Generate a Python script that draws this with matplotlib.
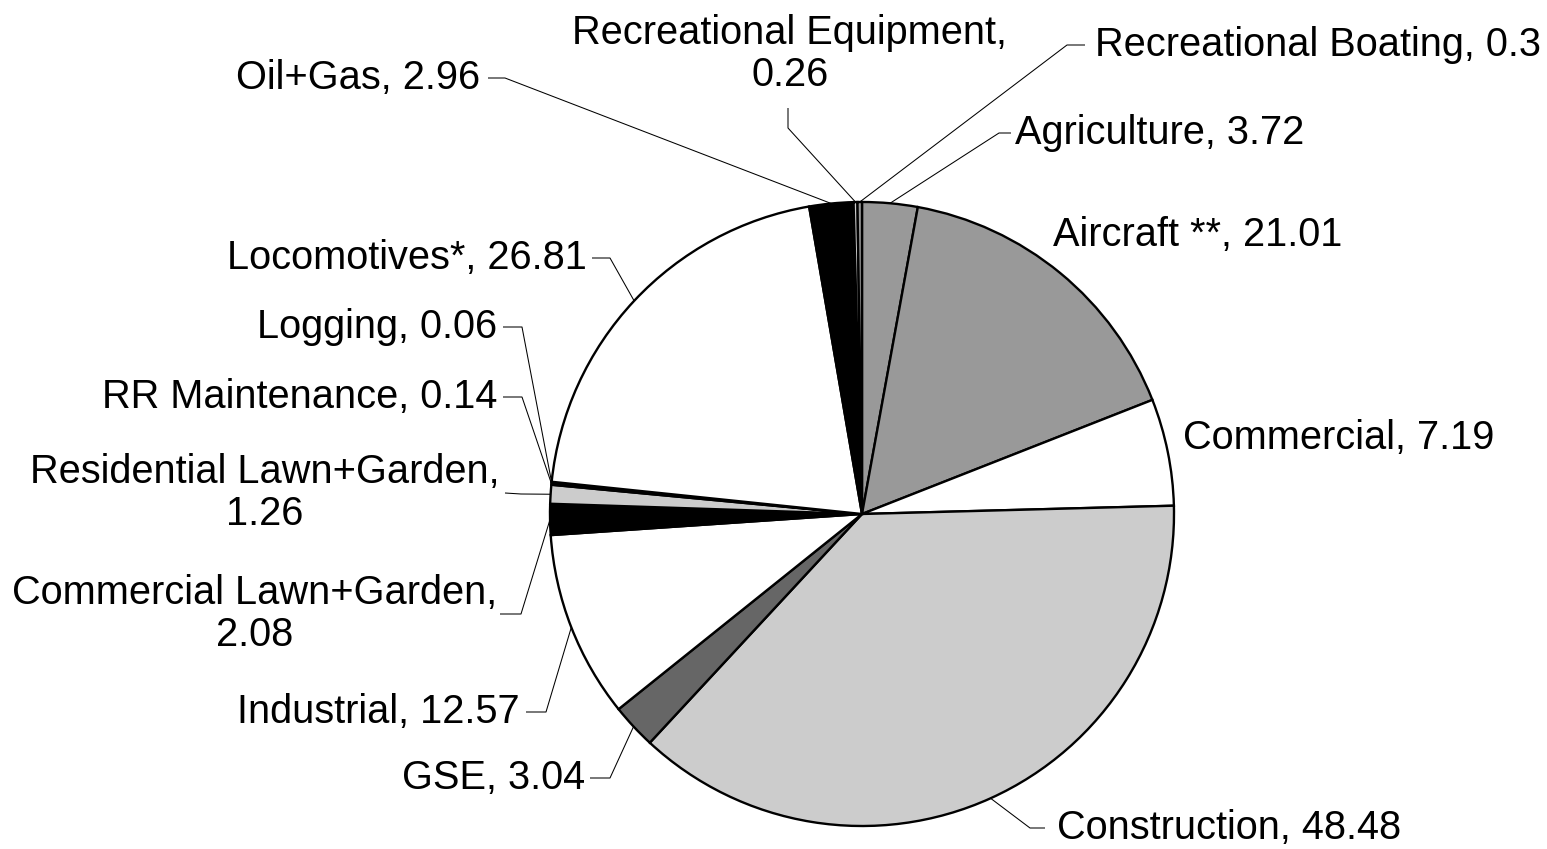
import numpy as np
import matplotlib
matplotlib.use("Agg")
import matplotlib.pyplot as plt

# ---- data ----
categories = ["Agriculture", "Aircraft **", "Commercial", "Construction", "GSE",
              "Industrial", "Commercial Lawn+Garden", "Residential Lawn+Garden",
              "RR Maintenance", "Logging", "Locomotives*", "Oil+Gas",
              "Recreational Equipment", "Recreational Boating"]
values = [3.72, 21.01, 7.19, 48.48, 3.04, 12.57, 2.08, 1.26, 0.14, 0.06,
          26.81, 2.96, 0.26, 0.3]
value_labels = ["3.72", "21.01", "7.19", "48.48", "3.04", "12.57", "2.08", "1.26",
                "0.14", "0.06", "26.81", "2.96", "0.26", "0.3"]

# ---- styles ----
colors = ["#999999", "#999999", "#ffffff", "#cccccc", "#666666", "#ffffff",
          "#000000", "#cccccc", "#000000", "#999999", "#ffffff", "#000000",
          "#cccccc", "#999999"]

W, H = 1547, 849
CX, CY, R = 862, 514, 312
plt.rcParams['font.family'] = ['Liberation Sans', 'DejaVu Sans']
FS = 28.6

fig = plt.figure(figsize=(W / 100, H / 100), dpi=100)
ax = fig.add_axes([0, 0, 1, 1])

def Y(py):
    return H - py

ax.pie(values, colors=colors, startangle=90, counterclock=False,
       center=(CX, Y(CY)), radius=R,
       wedgeprops=dict(edgecolor="black", linewidth=1.7, antialiased=True))
ax.set_xlim(0, W)
ax.set_ylim(0, H)
ax.set_aspect("equal")
ax.axis("off")

total = sum(values)
cum = np.cumsum([0] + values)
def edge_point(i):
    frac = (cum[i] + values[i] / 2) / total
    ang = np.deg2rad(90 - 360 * frac)
    return CX + R * np.cos(ang), CY - R * np.sin(ang)

# layout: (text x, text y, ha, multiline, leader points [start, elbow])
layout = {
    "Agriculture": (1015, 133, "left", False, [(1011, 133), (999, 133)]),
    "Aircraft **": (1053, 235, "left", False, None),
    "Commercial": (1183, 438, "left", False, None),
    "Construction": (1057, 828, "left", False, [(1045, 828), (1030, 828)]),
    "GSE": (585, 778, "right", False, [(590, 778), (610, 778)]),
    "Industrial": (520, 712, "right", False, [(526, 712), (546, 712)]),
    "Commercial Lawn+Garden": (255, 614, "center", True, [(500, 614), (521, 614)]),
    "Residential Lawn+Garden": (265, 493, "center", True, [(505, 493), (521, 494)]),
    "RR Maintenance": (497, 397, "right", False, [(503, 397), (522, 397)]),
    "Logging": (497, 327, "right", False, [(503, 327), (522, 327)]),
    "Locomotives*": (587, 258, "right", False, [(592, 258), (610, 258)]),
    "Oil+Gas": (480, 78, "right", False, [(488, 78), (505, 78)]),
    "Recreational Equipment": (790, 54, "center", True, [(788, 108), (788, 128)]),
    "Recreational Boating": (1095, 45, "left", False, [(1085, 45), (1067, 45)]),
}

for i, (cat, val) in enumerate(zip(categories, value_labels)):
    tx, ty, ha, multi, lead = layout[cat]
    txt = f"{cat},\n{val}" if multi else f"{cat}, {val}"
    ax.text(tx, Y(ty), txt, ha=ha, va="center", fontsize=FS,
            linespacing=1.15, color="black")
    if lead is not None:
        ex, ey = edge_point(i)
        pts = lead + [(ex, ey)]
        ax.plot([p[0] for p in pts], [Y(p[1]) for p in pts],
                color="black", linewidth=0.75, solid_capstyle="butt")

fig.savefig("out.png", dpi=100, facecolor="white")
